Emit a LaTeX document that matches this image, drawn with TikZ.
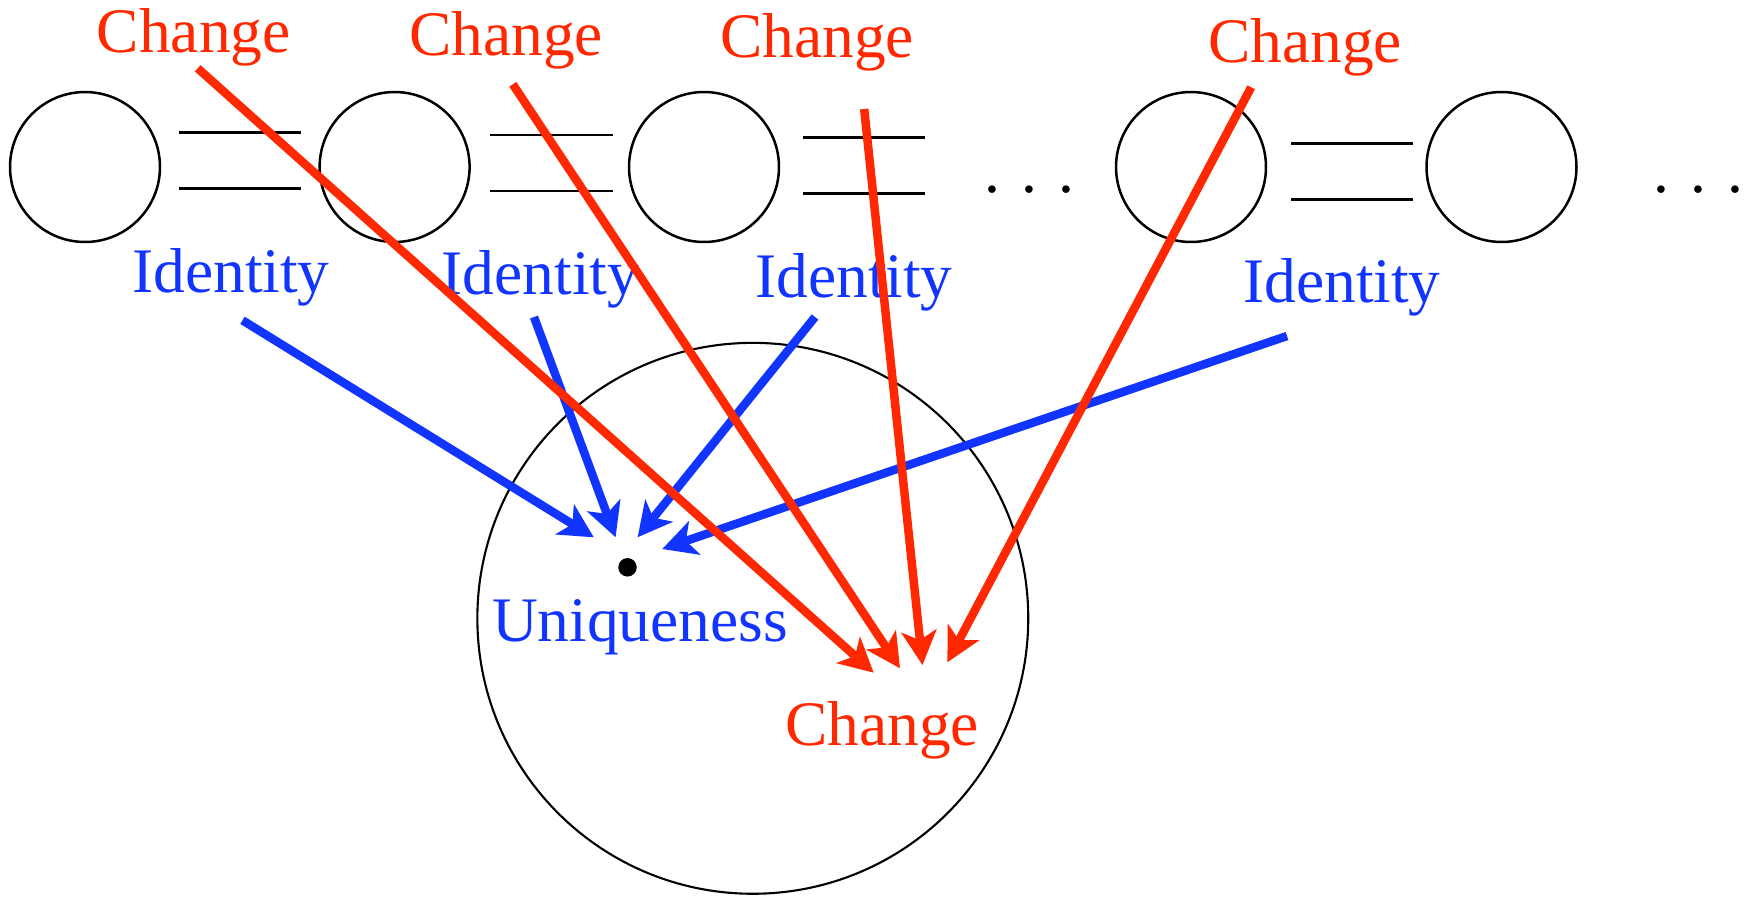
\documentclass[tikz,border=0pt]{standalone}
\usepackage{fontspec}
\setmainfont{Liberation Serif}
\usetikzlibrary{arrows.meta}
\definecolor{cred}{RGB}{255,40,0}
\definecolor{cblue}{RGB}{18,52,255}
\begin{document}
\begin{tikzpicture}[x=0.02cm,y=-0.02cm,
  lbl/.style={font=\fontsize{36.1}{40}\selectfont, inner sep=0, anchor=base},
  chg/.style={lbl, text=cred},
  ident/.style={lbl, text=cblue},
  ring/.style={draw, circle, line width=0.05cm, minimum size=3cm, inner sep=0},
  bigring/.style={draw, circle, line width=0.042cm, minimum size=11.02cm, inner sep=0},
  eqline/.style={line width=0.05cm},
  tipstyle/.style={-{Stealth[length=0.68cm,width=0.7cm,inset=0.18cm]}},
  redarrow/.style={draw=cred, line width=0.17cm, tipstyle},
  bluearrow/.style={draw=cblue, line width=0.17cm, tipstyle}
]
\useasboundingbox (0,0) rectangle (1744,897);

% top row of circles
\node[ring] (c1) at (85,167) {};
\node[ring] (c2) at (394.6,167) {};
\node[ring] (c3) at (704,167) {};
\node[ring] (c4) at (1191,167) {};
\node[ring] (c5) at (1501.5,167) {};

% equal signs
\coordinate (e1a) at (178.7,132.7); \coordinate (e1b) at (301.3,132.7);
\coordinate (e1c) at (178.7,188.7); \coordinate (e1d) at (301.3,188.7);
\coordinate (e2a) at (490.3,135); \coordinate (e2b) at (612.8,135);
\coordinate (e2c) at (490.3,191); \coordinate (e2d) at (612.8,191);
\coordinate (e3a) at (802.6,137.3); \coordinate (e3b) at (925,137.3);
\coordinate (e3c) at (802.6,193.3); \coordinate (e3d) at (925,193.3);
\coordinate (e4a) at (1291,143.3); \coordinate (e4b) at (1413,143.3);
\coordinate (e4c) at (1291,199.3); \coordinate (e4d) at (1413,199.3);
\draw[eqline] (e1a) -- (e1b); \draw[eqline] (e1c) -- (e1d);
\draw[eqline] (e2a) -- (e2b); \draw[eqline] (e2c) -- (e2d);
\draw[eqline] (e3a) -- (e3b); \draw[eqline] (e3c) -- (e3d);
\draw[eqline] (e4a) -- (e4b); \draw[eqline] (e4c) -- (e4d);

% dots
\node[lbl] (d1) at (1029,192.5) {. . .};
\node[lbl] (d2) at (1698.8,192.5) {. . .};

% big circle and centre point
\node[bigring] (big) at (752.8,618.3) {};
\node[circle, fill=black, inner sep=0, minimum size=0.37cm] (pt) at (627.5,567.3) {};

% labels
\node[chg] (ch1) at (193.7,52) {Change};
\node[chg] (ch2) at (506,55) {Change};
\node[chg] (ch3) at (817,57.5) {Change};
\node[chg] (ch4) at (1305,62) {Change};
\node[ident] (id1) at (231,292) {Identity};
\node[ident] (id2) at (540.5,294.7) {Identity};
\node[ident] (id3) at (854,297) {Identity};
\node[ident] (id4) at (1342,302) {Identity};
\node[ident] (uniq) at (640,641.7) {Uniqueness};
\node[chg] (chb) at (882,745) {Change};

% connector end points
\coordinate (r1s) at (197.7,68.3); \coordinate (r1e) at (873.7,672.7);
\coordinate (r2s) at (512.8,84.3); \coordinate (r2e) at (900,668.3);
\coordinate (r3s) at (864.2,109);  \coordinate (r3e) at (922.5,665);
\coordinate (r4s) at (1251.1,87.3); \coordinate (r4e) at (947.4,662.3);
\coordinate (b1s) at (242.5,320.3); \coordinate (b1e) at (593.8,537.3);
\coordinate (b2s) at (534,317);   \coordinate (b2e) at (615.6,537.3);
\coordinate (b3s) at (815,317);   \coordinate (b3e) at (637.6,537.3);
\coordinate (b4s) at (1287,336);  \coordinate (b4e) at (662.2,549);

% blue arrows
\draw[bluearrow] (b1s) -- (b1e);
\draw[bluearrow] (b2s) -- (b2e);
\draw[bluearrow] (b3s) -- (b3e);
\draw[bluearrow] (b4s) -- (b4e);

% red arrows
\draw[redarrow] (r1s) -- (r1e);
\draw[redarrow] (r2s) -- (r2e);
\draw[redarrow] (r3s) -- (r3e);
\draw[redarrow] (r4s) -- (r4e);
\end{tikzpicture}
\end{document}
